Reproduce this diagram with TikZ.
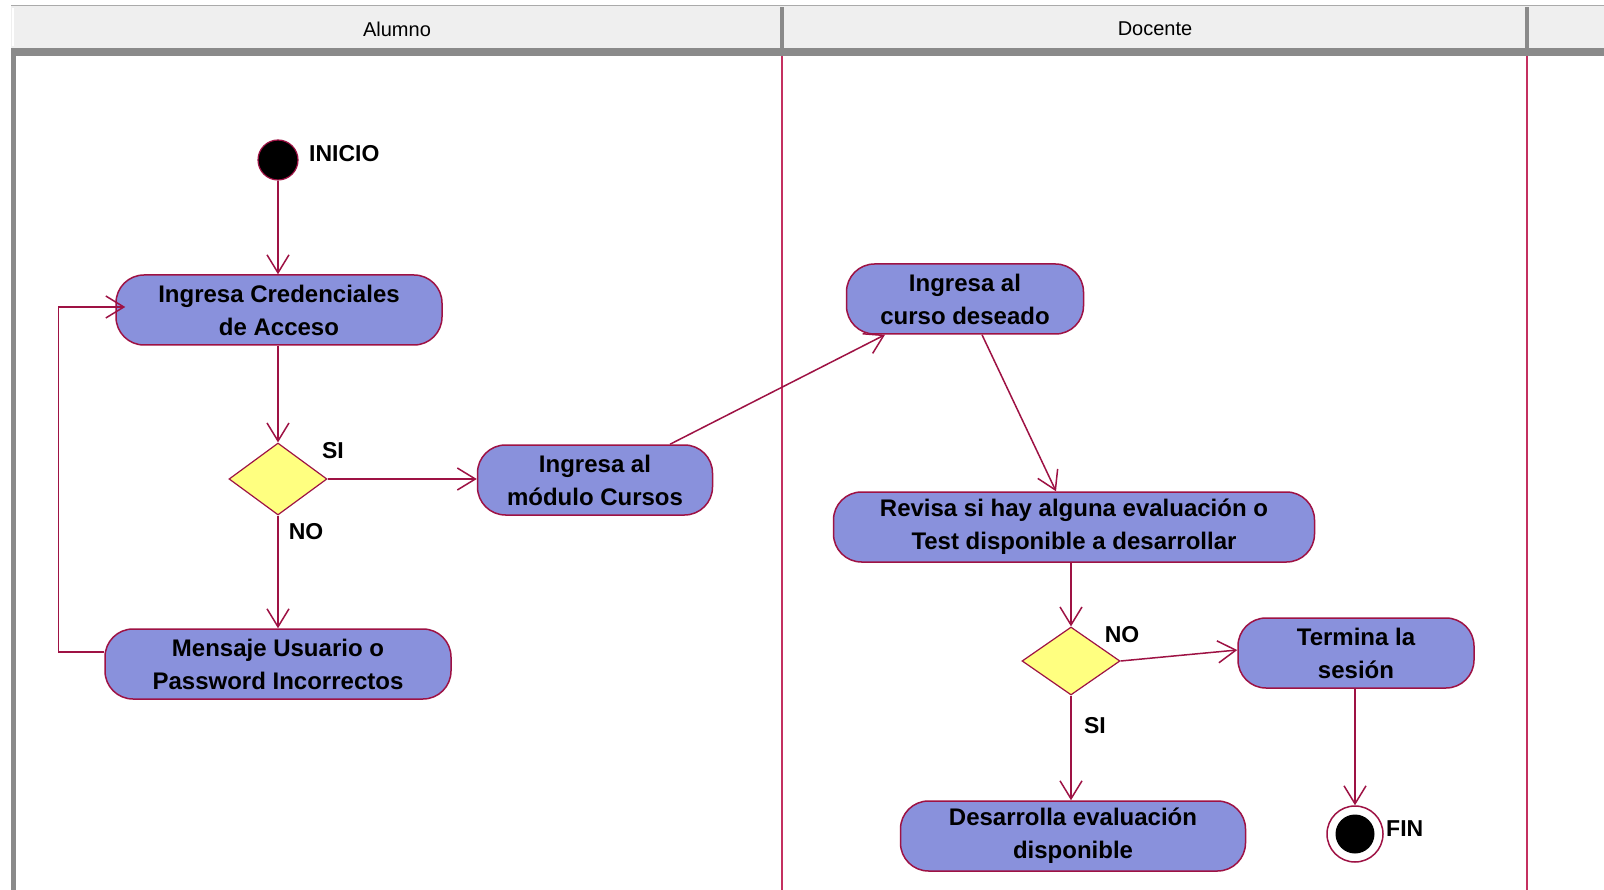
\documentclass[tikz,border=0pt]{standalone}
\usepackage{fontspec}
\setmainfont{Liberation Sans}
\usetikzlibrary{shapes.geometric,arrows.meta,calc}

\definecolor{crim}{RGB}{158,18,68}
\definecolor{lanecol}{RGB}{196,48,96}
\definecolor{actfill}{RGB}{137,145,220}
\definecolor{decfill}{RGB}{255,255,128}
\definecolor{hdrfill}{RGB}{239,239,239}
\definecolor{hdrline}{RGB}{170,170,170}
\definecolor{barcol}{RGB}{138,138,138}

\newcommand{\actfont}{\fontsize{24}{33}\selectfont\bfseries}
\newcommand{\lblfont}{\fontsize{23}{28}\selectfont\bfseries}
\newcommand{\hdrfont}{\fontsize{20}{24}\selectfont}

\tikzset{
  act/.style={draw=crim, fill=actfill, line width=1.5pt, rounded corners=28pt,
    minimum height=70pt, align=center, font=\actfont, inner sep=0pt},
  decision/.style={draw=crim, fill=decfill, line width=1.2pt, diamond,
    minimum width=98pt, minimum height=72pt, inner sep=0pt},
  initial/.style={circle, draw=crim, fill=black, line width=1.2pt,
    minimum size=40pt, inner sep=0pt},
  finalouter/.style={circle, draw=crim, fill=white, line width=1.5pt,
    minimum size=56pt, inner sep=0pt},
  finalinner/.style={circle, fill=black, minimum size=39pt, inner sep=0pt},
  flow/.style={draw=crim, line width=1.5pt,
    -{Straight Barb[length=18pt,width=22pt,line width=1.5pt]}},
  lbl/.style={font=\lblfont, inner sep=0pt},
  hdrtext/.style={font=\hdrfont, inner sep=0pt},
}

\begin{document}
\begin{tikzpicture}[x=1pt,y=-1pt]
  \useasboundingbox (0,0) rectangle (1604,890);
  \fill[white] (0,0) rectangle (1604,890);

  % swimlane header
  \fill[hdrfill] (11,6) rectangle (1604,48);
  \draw[hdrline, line width=1pt] (11,6) -- (1604,6);
  \draw[white, line width=1.5pt] (13,8) -- (13,46);
  \fill[barcol] (11,48) rectangle (1604,56);
  \fill[barcol] (11,48) rectangle (16,890);
  \fill[barcol] (780,7) rectangle (784,52);
  \fill[barcol] (1525,7) rectangle (1529,52);
  \node[hdrtext] (hA) at (397,29) {Alumno};
  \node[hdrtext] (hD) at (1155,29) {Docente};

  % lane separators
  \draw[lanecol, line width=1.5pt] (782,56) -- (782,890);
  \draw[lanecol, line width=1.5pt] (1527,56) -- (1527,890);

  % Alumno lane
  \node[initial] (ini) at (278,160) {};
  \node[lbl, anchor=west] (iniL) at (309,154) {INICIO};
  \node[act, minimum width=326pt] (cred) at (279,310) {Ingresa Credenciales\\de Acceso};
  \node[decision] (d1) at (278,479) {};
  \node[act, minimum width=235pt] (mod) at (595,480) {Ingresa al\\módulo Cursos};
  \node[act, minimum width=346pt] (msg) at (278,664) {Mensaje Usuario o\\Password Incorrectos};
  \node[lbl] (siA) at (333,451) {SI};
  \node[lbl] (noA) at (306,532) {NO};

  % Docente lane
  \node[act, minimum width=237pt] (cur) at (965,299) {Ingresa al\\curso deseado};
  \node[act, minimum width=481pt] (rev) at (1074,527) {Revisa si hay alguna evaluación o\\Test disponible a desarrollar};
  \node[decision, minimum height=68pt] (d2) at (1071,661) {};
  \node[act, minimum width=236pt] (term) at (1356,653) {Termina la\\sesión};
  \node[act, minimum width=345pt] (des) at (1073,836) {Desarrolla evaluación\\disponible};
  \node[finalouter] (fin) at (1355,834) {};
  \node[finalinner] (finc) at (fin) {};
  \node[lbl, anchor=west] (finL) at (1386,829) {FIN};
  \node[lbl] (noD) at (1122,635) {NO};
  \node[lbl] (siD) at (1095,726) {SI};

  % transitions
  \draw[flow] (ini.south) -- (ini.south |- cred.north);
  \draw[flow] (cred.south -| d1.north) -- (d1.north);
  \draw[flow] (d1.east) -- (d1.east -| mod.west);
  \draw[flow] (d1.south) -- (d1.south |- msg.north);
  \draw[flow] ([yshift=12pt]msg.west) -- ++(-46,0) |- ([xshift=10pt,yshift=3pt]cred.west);
  \draw[flow] ([xshift=75pt]mod.north) -- ([xshift=-80pt]cur.south);
  \draw[flow] ([xshift=17pt]cur.south) -- ([xshift=-18pt]rev.north);
  \draw[flow] (rev.south -| d2.north) -- (d2.north);
  \draw[flow] (d2.east) -- ([yshift=3pt]term.west);
  \draw[flow] (d2.south) -- (d2.south |- des.north);
  \draw[flow] (term.south -| fin.north) -- (fin.north);
\end{tikzpicture}
\end{document}
